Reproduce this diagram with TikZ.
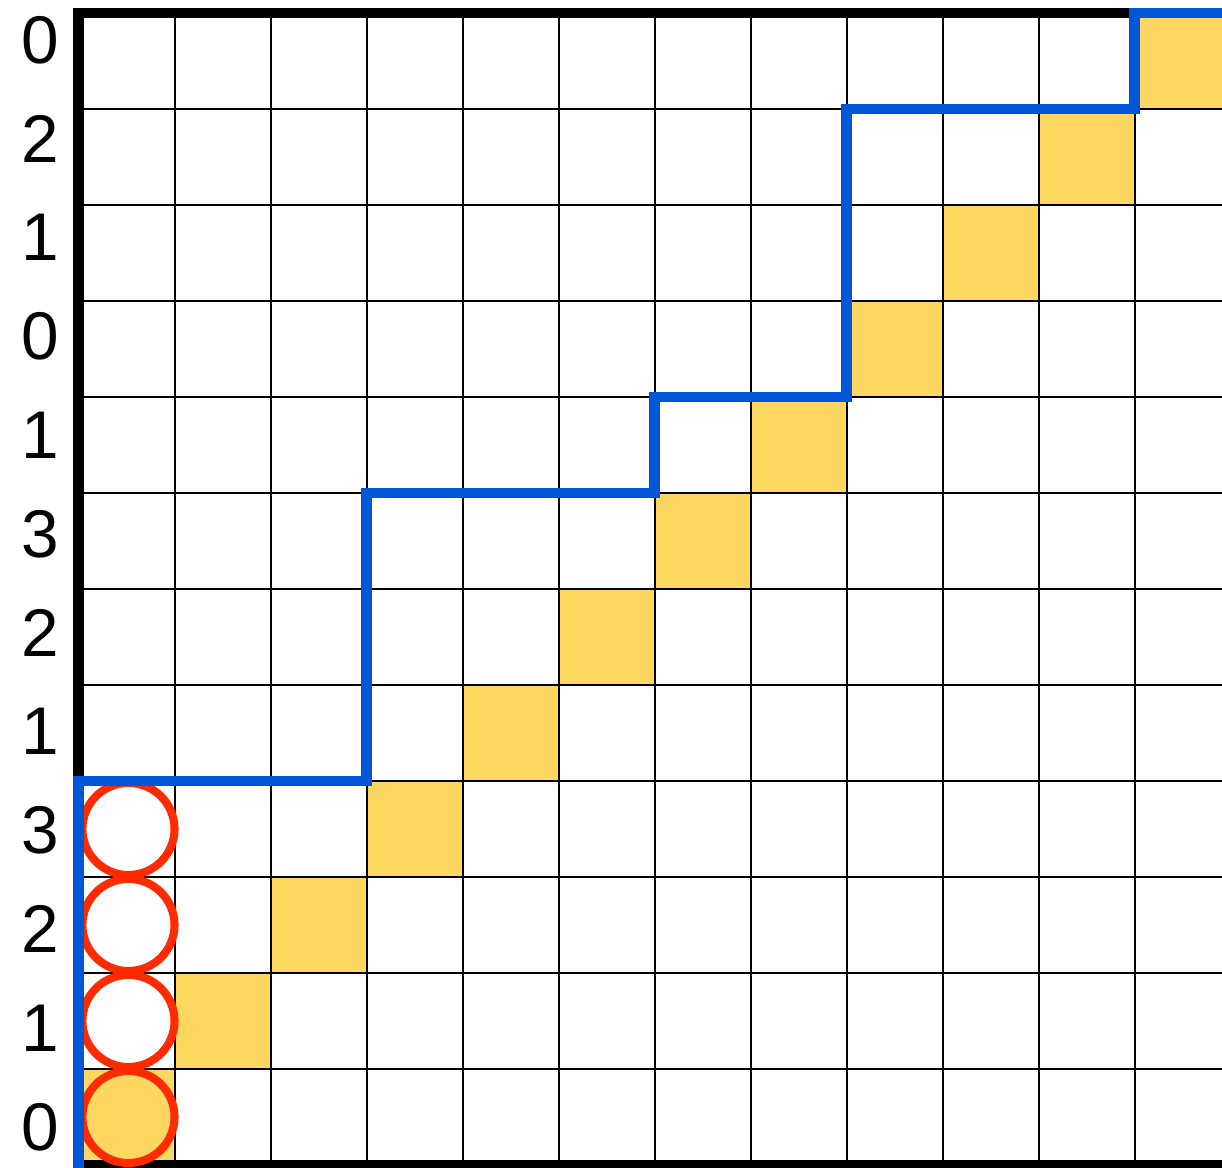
\documentclass[tikz,border=0pt]{standalone}
\usepackage{fontspec}
\setmainfont{Liberation Sans}
\definecolor{cellyellow}{HTML}{FDD760}
\definecolor{pathblue}{HTML}{0057D6}
\definecolor{circred}{HTML}{FF2B00}
\begin{document}
\begin{tikzpicture}[x=1cm,y=1cm,
  gridline/.style={line width=0.6pt,black},
  border/.style={line width=3pt,black,line join=miter},
  route/.style={line width=3pt,pathblue,line join=miter},
  ring/.style={line width=2.4pt,circred},
  rowlabel/.style={font=\fontsize{20}{24}\selectfont,anchor=center,inner sep=0pt}]
\useasboundingbox (-0.818,-0.031) rectangle (11.911,12.135);
\clip (-0.818,-0.031) rectangle (11.911,12.135);
% yellow diagonal cells
\foreach \i in {0,...,11} \fill[cellyellow] (\i,\i) rectangle ++(1,1);
% grid
\foreach \i in {1,...,11} {
  \draw[gridline] (\i,0) -- (\i,12);
  \draw[gridline] (0,\i) -- (12.5,\i);
}
% borders
\draw[border] (12.5,12) -- (0,12) -- (0,0) -- (12.5,0);
% row labels
\foreach \r/\l in {0/0,1/1,2/2,3/3,4/1,5/2,6/3,7/1,8/0,9/1,10/2,11/0}
  \node[rowlabel] (lab\r) at (-0.396,0.396+\r*1.0293) {\l};
% red circles
\foreach \r in {0,...,3}
  \draw[ring] (0.52,\r+0.5) circle[radius=0.48];
% blue staircase
\coordinate (s0) at (0,-0.2);
\coordinate (s1) at (0,4);
\coordinate (s2) at (3,4);
\coordinate (s3) at (3,7);
\coordinate (s4) at (6,7);
\coordinate (s5) at (6,8);
\coordinate (s6) at (8,8);
\coordinate (s7) at (8,11);
\coordinate (s8) at (11,11);
\coordinate (s9) at (11,12);
\coordinate (s10) at (12.5,12);
\draw[route] (s0) -- (s1) -- (s2) -- (s3) -- (s4) -- (s5) -- (s6) -- (s7) -- (s8) -- (s9) -- (s10);
\end{tikzpicture}
\end{document}
